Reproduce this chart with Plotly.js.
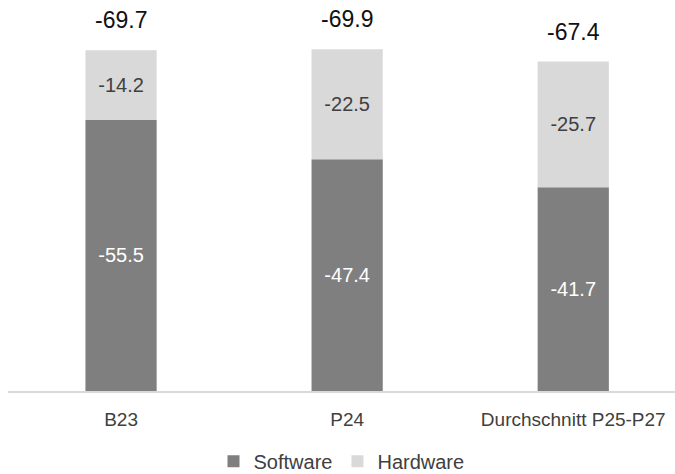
<!DOCTYPE html>
<html>
<head>
<meta charset="utf-8">
<script src="https://cdn.plot.ly/plotly-3.0.1.min.js"></script>
<style>html,body{margin:0;padding:0;background:#fff;}#chart{width:675px;height:474px;}</style>
</head>
<body>
<div id="chart"></div>
<script>
var categories = ['B23', 'P24', 'Durchschnitt P25-P27'];
var software = [-55.5, -47.4, -41.7];
var hardware = [-14.2, -22.5, -25.7];
var totals = [-69.7, -69.9, -67.4];

var FONT = '"Liberation Sans", Arial, sans-serif';

var traces = [
  {
    type: 'bar', name: 'Software', x: categories, y: software,
    marker: {color: '#7f7f7f'}, width: 0.315,
    texttemplate: '%{y:.1f}', textposition: 'inside', insidetextanchor: 'middle',
    textangle: 0, constraintext: 'none',
    textfont: {family: FONT, size: 20, color: '#ffffff'},
    hoverinfo: 'skip'
  },
  {
    type: 'bar', name: 'Hardware', x: categories, y: hardware,
    marker: {color: '#d9d9d9'}, width: 0.315,
    texttemplate: '%{y:.1f}', textposition: 'inside', insidetextanchor: 'middle',
    textangle: 0, constraintext: 'none',
    textfont: {family: FONT, size: 20, color: '#404040'},
    hoverinfo: 'skip'
  }
];

var annotations = categories.map(function (c, i) {
  return {
    x: c, y: totals[i], xref: 'x', yref: 'y',
    text: totals[i].toFixed(1), showarrow: false,
    yanchor: 'middle', yshift: 30,
    font: {family: FONT, size: 23, color: '#111111'}
  };
});

var layout = {
  width: 675, height: 474,
  margin: {l: 8, r: 0, t: 0, b: 83, autoexpand: false},
  paper_bgcolor: '#ffffff', plot_bgcolor: '#ffffff',
  barmode: 'relative',
  font: {family: FONT, color: '#404040'},
  xaxis: {
    type: 'category', range: [-0.5, 2.45],
    showline: true, linecolor: '#d9d9d9', linewidth: 1.5,
    ticks: '', showgrid: false, zeroline: false,
    ticklabelstandoff: 11,
    tickfont: {family: FONT, size: 19, color: '#404040'}
  },
  yaxis: {
    range: [0, -80], visible: false, showgrid: false, zeroline: false
  },
  showlegend: true,
  legend: {
    orientation: 'h', x: 0.5, xanchor: 'center',
    yref: 'container', y: 0.027, yanchor: 'middle',
    font: {family: FONT, size: 20, color: '#404040'},
    traceorder: 'normal', itemwidth: 30, tracegroupgap: 0
  },
  annotations: annotations
};

Plotly.newPlot('chart', traces, layout, {staticPlot: true, displayModeBar: false});
</script>
</body>
</html>
